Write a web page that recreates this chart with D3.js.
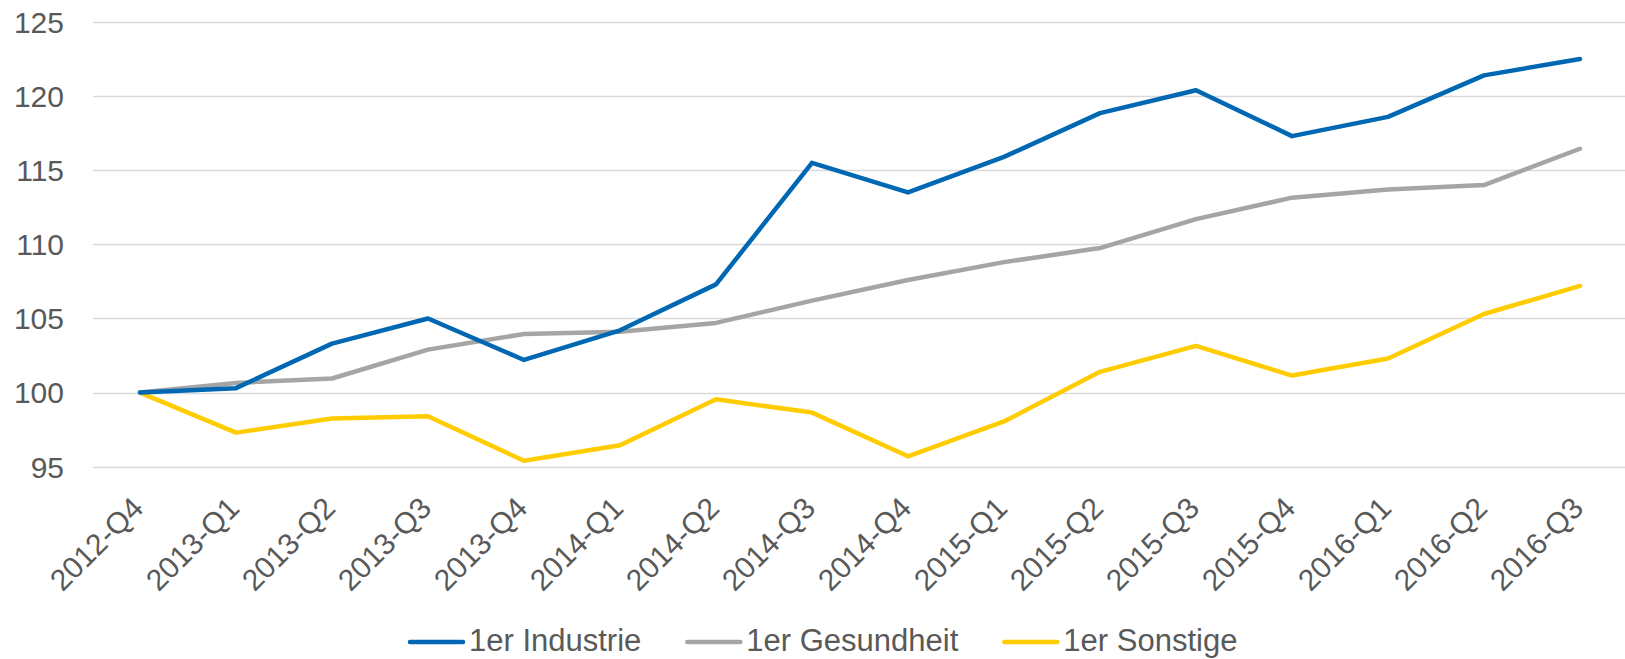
<!DOCTYPE html>
<html>
<head>
<meta charset="utf-8">
<script src="https://cdn.jsdelivr.net/npm/d3@7"></script>
<style>
	body { margin: 0; background: #fff; }
	svg text { font-family: "Liberation Sans", Arial, sans-serif; fill: #595959; }
</style>
</head>
<body>
<svg width="1625" height="659"></svg>
<script>
	// quarters on the x axis
	var quarters = ["2012-Q4", "2013-Q1", "2013-Q2", "2013-Q3", "2013-Q4", "2014-Q1", "2014-Q2", "2014-Q3",
		"2014-Q4", "2015-Q1", "2015-Q2", "2015-Q3", "2015-Q4", "2016-Q1", "2016-Q2", "2016-Q3"];

	var industrie = [100, 100.3, 103.3, 105.0, 102.2, 104.2, 107.3, 115.5, 113.5, 115.9, 118.85, 120.4, 117.3, 118.6, 121.4, 122.5];
	var gesundheit = [100, 100.65, 100.95, 102.9, 103.95, 104.1, 104.7, 106.2, 107.6, 108.8, 109.75, 111.7, 113.15, 113.7, 114.0, 116.45];
	var sonstige = [100, 97.3, 98.25, 98.4, 95.4, 96.45, 99.55, 98.65, 95.7, 98.05, 101.4, 103.15, 101.15, 102.3, 105.3, 107.2];

	var yTicks = [95, 100, 105, 110, 115, 120, 125];

	var seriesNames = ["1er Industrie", "1er Gesundheit", "1er Sonstige"];
	var seriesColors = ["#0068B3", "#A5A5A5", "#FFCC00"];

	var svg = d3.select("svg");

	var x = d3.scalePoint()
		.domain(quarters)
		.range([140, 1580]);

	var y = d3.scaleLinear()
		.domain([95, 125])
		.range([466.7, 22]);

	// gridlines
	svg.append("g")
		.selectAll("line")
		.data(yTicks)
		.enter().append("line")
		.attr("x1", 93)
		.attr("x2", 1625)
		.attr("y1", function(d) { return Math.round(y(d)) + 0.5; })
		.attr("y2", function(d) { return Math.round(y(d)) + 0.5; })
		.style("stroke", "#D9D9D9")
		.style("stroke-width", 1.5);

	// y labels
	svg.append("g")
		.selectAll("text")
		.data(yTicks)
		.enter().append("text")
		.attr("x", 64)
		.attr("y", function(d) { return y(d); })
		.attr("dy", "0.36em")
		.attr("text-anchor", "end")
		.style("font-size", "30px")
		.text(function(d) { return d; });

	// x labels, rotated
	svg.append("g")
		.selectAll("text")
		.data(quarters)
		.enter().append("text")
		.attr("text-anchor", "end")
		.attr("transform", function(d) { return "translate(" + (x(d) + 5) + ",510) rotate(-45)"; })
		.style("font-size", "30px")
		.text(function(d) { return d; });

	var line = d3.line()
		.x(function(d, i) { return x(quarters[i]); })
		.y(function(d) { return y(d); });

	var allSeries = [industrie, gesundheit, sonstige];

	// draw back to front: sonstige, gesundheit, industrie
	svg.append("g")
		.selectAll("path")
		.data([2, 1, 0])
		.enter().append("path")
		.attr("d", function(k) { return line(allSeries[k]); })
		.style("fill", "none")
		.style("stroke", function(k) { return seriesColors[k]; })
		.style("stroke-width", 4.5)
		.style("stroke-linejoin", "round")
		.style("stroke-linecap", "round");

	// legend
	var legend = svg.append("g");
	var lx = 410;
	seriesNames.forEach(function(name, i) {
		legend.append("line")
			.attr("x1", lx).attr("x2", lx + 53)
			.attr("y1", 642).attr("y2", 642)
			.style("stroke", seriesColors[i])
			.style("stroke-width", 4.5)
			.style("stroke-linecap", "round");
		var t = legend.append("text")
			.attr("x", lx + 59)
			.attr("y", 651)
			.style("font-size", "31px")
			.text(name);
		lx = lx + 59 + t.node().getComputedTextLength() + 46;
	});
</script>
</body>
</html>
